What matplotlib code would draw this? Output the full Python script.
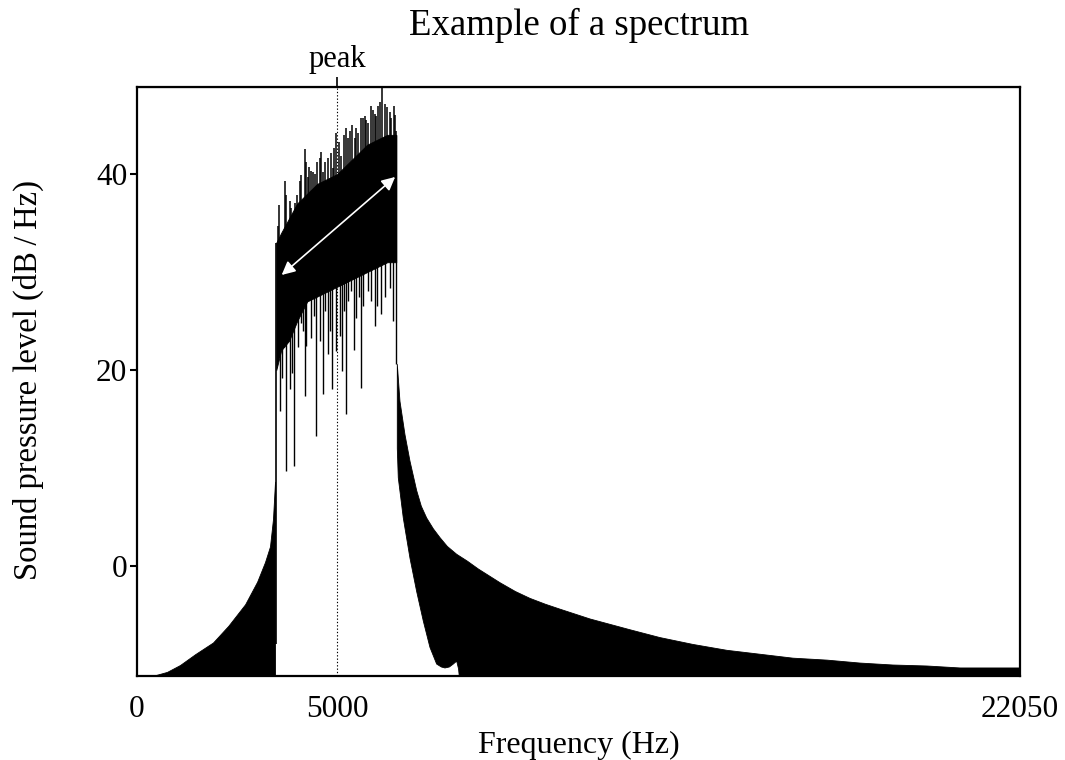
import numpy as np
import matplotlib
matplotlib.use("Agg")
import matplotlib.pyplot as plt

plt.rcParams["font.family"] = ["Liberation Serif", "DejaVu Serif"]

# low-frequency skirt (upper edge, filled down to the floor)
skirt_freq = [0, 400, 750, 1074, 1450, 1898, 2280, 2700, 3000, 3196, 3321, 3396, 3446]
skirt_db = [-12.0, -11.2, -10.8, -10.1, -9.0, -7.8, -6.1, -3.9, -1.6, 0.4, 2.0, 4.8, 8.6]

# pass band: dense core between lower and upper edge
band_freq = [3478, 3600, 3800, 4000, 4250, 4500, 4750, 5000, 5250, 5500, 5750, 6000, 6250, 6474]
band_lo = [20.0, 22.0, 23.0, 25.0, 27.0, 27.5, 28.0, 28.5, 29.0, 29.5, 30.0, 30.5, 31.0, 31.0]
band_hi = [33.0, 34.0, 35.5, 37.0, 38.0, 39.0, 39.5, 40.0, 41.0, 42.0, 43.0, 43.5, 44.0, 44.0]

# upward spikes in the pass band
up_freq = [3521, 3550, 3688, 3730, 3813, 3855, 3938, 3988, 4063, 4105, 4188, 4210, 4270,
           4300, 4353, 4395, 4437, 4500, 4562, 4603, 4645, 4700, 4770, 4835, 4894, 4915,
           4977, 5035, 5102, 5170, 5227, 5270, 5310, 5370, 5435, 5480, 5519, 5602, 5645,
           5685, 5730, 5769, 5852, 5895, 5935, 5977, 6018, 6070, 6118, 6185, 6235, 6310,
           6350, 6418, 6450, 6474]
up_db = [34.7, 36.8, 39.3, 37.9, 37.2, 36.5, 37.0, 37.9, 39.3, 39.9, 42.6, 41.2, 39.7,
         40.7, 40.3, 40.2, 40.0, 41.2, 41.6, 42.2, 40.2, 41.2, 41.6, 42.1, 40.6, 42.7,
         44.2, 43.3, 41.8, 44.0, 44.7, 43.7, 44.4, 45.0, 43.7, 44.7, 44.2, 45.7, 45.7,
         45.9, 45.5, 45.2, 46.9, 46.5, 46.1, 45.9, 46.9, 47.3, 48.9, 47.1, 46.8, 46.3,
         45.7, 46.9, 46.0, 44.4]

# downward spikes in the pass band
down_freq = [3563, 3621, 3671, 3728, 3813, 3870, 3920, 4020, 4103, 4150, 4188, 4230, 4353,
             4420, 4478, 4560, 4645, 4700, 4770, 4820, 4869, 4977, 5060, 5119, 5160, 5227,
             5280, 5352, 5420, 5477, 5540, 5586, 5650, 5769, 5850, 5935, 6000, 6101, 6200,
             6310, 6400]
down_db = [15.8, 19.2, 22.4, 9.7, 18.1, 19.7, 10.2, 22.4, 24.8, 24.0, 17.3, 22.5, 23.3,
           25.5, 13.3, 23.0, 17.6, 26.0, 21.6, 24.0, 18.1, 21.9, 23.5, 19.9, 26.0, 15.5,
           27.0, 28.1, 22.0, 25.3, 27.5, 18.2, 26.5, 28.1, 27.0, 24.5, 26.5, 25.7, 27.5,
           28.4, 25.0]

# high-frequency stop band: upper edge and lower edge
stop_freq = [6500, 6567, 6692, 6817, 6984, 7100, 7234, 7400, 7566, 7750, 7983, 8250, 8523,
             9065, 9450, 9814, 10200, 10563, 11312, 12310, 13060, 13885, 14733, 15557,
             16381, 17230, 18054, 18878, 19727, 20552, 21376, 22050]
stop_hi = [20.6, 16.8, 13.4, 10.7, 7.7, 6.1, 4.9, 3.8, 2.9, 2.0, 1.2, 0.5, -0.3,
           -1.7, -2.6, -3.3, -3.9, -4.4, -5.4, -6.5, -7.3, -8.0, -8.6, -9.0,
           -9.4, -9.6, -9.9, -10.1, -10.2, -10.4, -10.4, -10.4]
stop_lo_freq = [6500, 6525, 6650, 6817, 6984, 7149, 7316, 7483, 7600, 7691, 7800, 7898, 7983,
                8030, 8066, 22050]
stop_lo_db = [12.0, 9.0, 4.9, 0.8, -2.6, -5.6, -8.3, -10.0, -10.3, -10.4, -10.3, -10.0, -9.7,
              -10.5, -12.0, -12.0]

x_ticks = [0, 5000, 22050]
y_ticks = [0, 20, 40]
peak_freq = 5000
arrow_from = (3613, 29.7)
arrow_to = (6446, 39.7)

y_min, y_max = -11.22, 48.88
x_max = 22050


def main():
    fig = plt.figure(figsize=(10.65, 7.6), dpi=100)
    ax = fig.add_axes([137 / 1065, 1 - 676 / 760, 883 / 1065, 589 / 760])

    ax.fill_between(skirt_freq, skirt_db, y_min - 1, color="black", lw=0.6)
    ax.vlines(3468, -8.0, 33.0, color="black", lw=1.2)

    ax.fill_between(band_freq, band_lo, band_hi, color="black", lw=0.6)
    ax.vlines(up_freq, 32, up_db, color="black", lw=1.1)
    ax.vlines(down_freq, down_db, 32, color="black", lw=1.0)
    ax.vlines(6480, 20.6, 44.0, color="black", lw=1.0)

    poly_x = list(stop_freq) + stop_lo_freq[::-1]
    poly_y = list(stop_hi) + stop_lo_db[::-1]
    ax.fill(poly_x, poly_y, color="black", lw=0.6)

    ax.axvline(peak_freq, color="black", lw=0.8, ls=(0, (1.2, 1.8)))

    ax.annotate("", xy=arrow_to, xytext=arrow_from,
                arrowprops=dict(arrowstyle="<|-|>", color="white", lw=1.2,
                                mutation_scale=20, shrinkA=0, shrinkB=0))

    ax.set_xlim(0, x_max)
    ax.set_ylim(y_min, y_max)
    for side in ax.spines.values():
        side.set_linewidth(1.6)

    ax.set_xticks(x_ticks)
    ax.set_xticklabels([str(v) for v in x_ticks])
    ax.tick_params(axis="x", length=0, pad=14, labelsize=22.5)
    ax.set_yticks(y_ticks)
    ax.tick_params(axis="y", length=5, width=1.5, direction="out", pad=2, labelsize=22.5)

    top = ax.secondary_xaxis("top")
    top.set_xticks([peak_freq])
    top.set_xticklabels(["peak"])
    top.tick_params(length=7, width=1.2, direction="out", pad=2, labelsize=22)

    fig.text(579 / 1065, 1 - 25 / 760, "Example of a spectrum", ha="center",
             va="center", fontsize=26.5)
    fig.text(579 / 1065, 1 - 745 / 760, "Frequency (Hz)", ha="center",
             va="center", fontsize=23)
    fig.text(28 / 1065, 1 - 380 / 760, "Sound pressure level (dB\u2009/\u2009Hz)",
             ha="center", va="center", rotation=90, fontsize=23.5)

    fig.savefig("out.png", dpi=100, facecolor="white")


if __name__ == "__main__":
    main()
